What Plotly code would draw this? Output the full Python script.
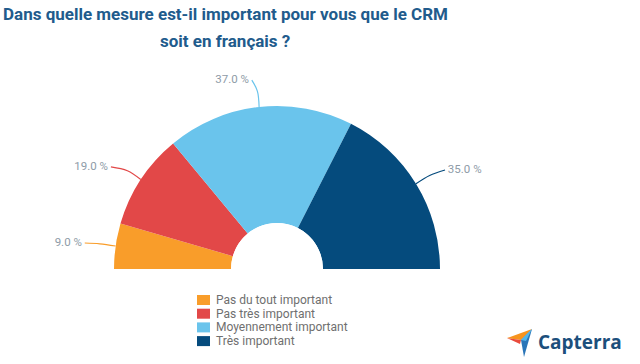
import plotly.graph_objects as go

# ---- data ----
categories = ["Pas du tout important", "Pas très important", "Moyennement important", "Très important"]
values = [9.0, 19.0, 37.0, 35.0]
colors = ["#F99D2A", "#E24848", "#6AC4EC", "#054B7D"]
label_texts = [f"{v:.1f} %" for v in values]
title_lines = ["Dans quelle mesure est-il important pour vous que le CRM", "soit en français ?"]

W, H = 640, 364

def px(x):
    return x / W

def py(y):
    return 1 - y / H

# ---- pie geometry (styling, in pixels) ----
CX, CY = 277, 269      # centre of the half donut
OUTER, INNER = 163, 46  # outer / inner radius of the slices
RMAX = 1.35            # radial range, leaves room for leader lines
R_PX = INNER + (OUTER - INNER) * RMAX
HOLE = INNER / R_PX

def rr(p):
    """pixel radius -> radial coordinate"""
    return (p - INNER) / (OUTER - INNER)

# angular geometry: half circle = 180 degrees for 100 %
scale = 180.0 / sum(values)
widths = [v * scale for v in values]
mids = []
acc = 0.0
for w in widths:
    mids.append(acc + w / 2)
    acc += w

fig = go.Figure()
fig.add_trace(go.Barpolar(
    r=[1] * len(values), theta=mids, width=widths,
    marker=dict(color=colors, line=dict(width=0)),
    showlegend=False, hoverinfo="skip",
))

# leader lines + labels (offsets are styling)
label_end = [(194, 7.7), (195, 31.6), (190.5, 82.4), (195, 149.5)]
text_pos = ["middle left", "middle left", "middle left", "middle right"]
for i, (m, c) in enumerate(zip(mids, colors)):
    pe, te = label_end[i]
    fig.add_trace(go.Scatterpolar(
        r=[1.0, rr(179), rr(pe)], theta=[m, m, te], mode="lines",
        line=dict(color=c, width=1.2, shape="spline"),
        showlegend=False, hoverinfo="skip", cliponaxis=False,
    ))
    txt = " " + label_texts[i] if text_pos[i] == "middle right" else label_texts[i] + " "
    fig.add_trace(go.Scatterpolar(
        r=[rr(pe)], theta=[te], mode="text", text=[txt],
        textposition=text_pos[i],
        textfont=dict(family="Roboto", size=11.5, color="#8E9BA7"),
        showlegend=False, hoverinfo="skip", cliponaxis=False,
    ))

fig.update_layout(
    width=W, height=H,
    margin=dict(l=0, r=0, t=0, b=0),
    paper_bgcolor="white",
    polar=dict(
        domain=dict(x=[px(CX - R_PX), px(CX + R_PX)],
                    y=[py(CY), py(CY - R_PX)]),
        sector=[0, 180],
        hole=HOLE,
        bgcolor="rgba(0,0,0,0)",
        radialaxis=dict(visible=False, range=[0, RMAX]),
        angularaxis=dict(visible=False, rotation=180, direction="clockwise",
                         thetaunit="degrees"),
    ),
    showlegend=False,
)

# title (two lines)
for line, yc in zip(title_lines, [14, 41]):
    fig.add_annotation(
        x=px(225), y=py(yc), xref="paper", yref="paper", xanchor="center", yanchor="middle",
        text=f"<b>{line}</b>", showarrow=False, align="center",
        font=dict(family="Roboto", size=17, color="#215B8C"),
    )

# custom legend
shapes = []
row0, gap = 300, 13.7
for i, (cat, c) in enumerate(zip(categories, colors)):
    yc = row0 + i * gap
    shapes.append(dict(type="rect", xref="paper", yref="paper",
                       x0=px(197), x1=px(210), y0=py(yc + 5), y1=py(yc - 5),
                       fillcolor=c, line=dict(width=0)))
    fig.add_annotation(
        x=px(214), y=py(yc), xref="paper", yref="paper", xanchor="left", yanchor="middle",
        text=cat, showarrow=False,
        font=dict(family="Roboto", size=12, color="#6F6F6F"),
    )

# Capterra logo
def path(pts):
    return "M " + " L ".join(f"{px(x)},{py(y)}" for x, y in pts) + " Z"

shapes.append(dict(type="path", xref="paper", yref="paper", path=path([(507, 338), (532, 329), (521, 340)]),
                   fillcolor="#F7941E", line=dict(width=0)))
shapes.append(dict(type="path", xref="paper", yref="paper", path=path([(507, 338), (521, 340), (520, 344)]),
                   fillcolor="#E94B3C", line=dict(width=0)))
shapes.append(dict(type="path", xref="paper", yref="paper", path=path([(532, 329), (521, 340), (524, 357)]),
                   fillcolor="#2A75B8", line=dict(width=0)))
shapes.append(dict(type="path", xref="paper", yref="paper", path=path([(532, 329), (521, 340), (526, 341)]),
                   fillcolor="#52B5E8", line=dict(width=0)))
fig.update_layout(shapes=shapes)
fig.add_annotation(
    x=px(536), y=py(342), xref="paper", yref="paper", xanchor="left", yanchor="middle",
    text="<b>Capterra</b>", showarrow=False,
    font=dict(family="Open Sans", size=19, color="#1C4F7C"),
)

fig.write_html("out.html", config={"displayModeBar": False},
               post_script="document.body.style.margin='0';document.body.style.overflow='hidden';")
